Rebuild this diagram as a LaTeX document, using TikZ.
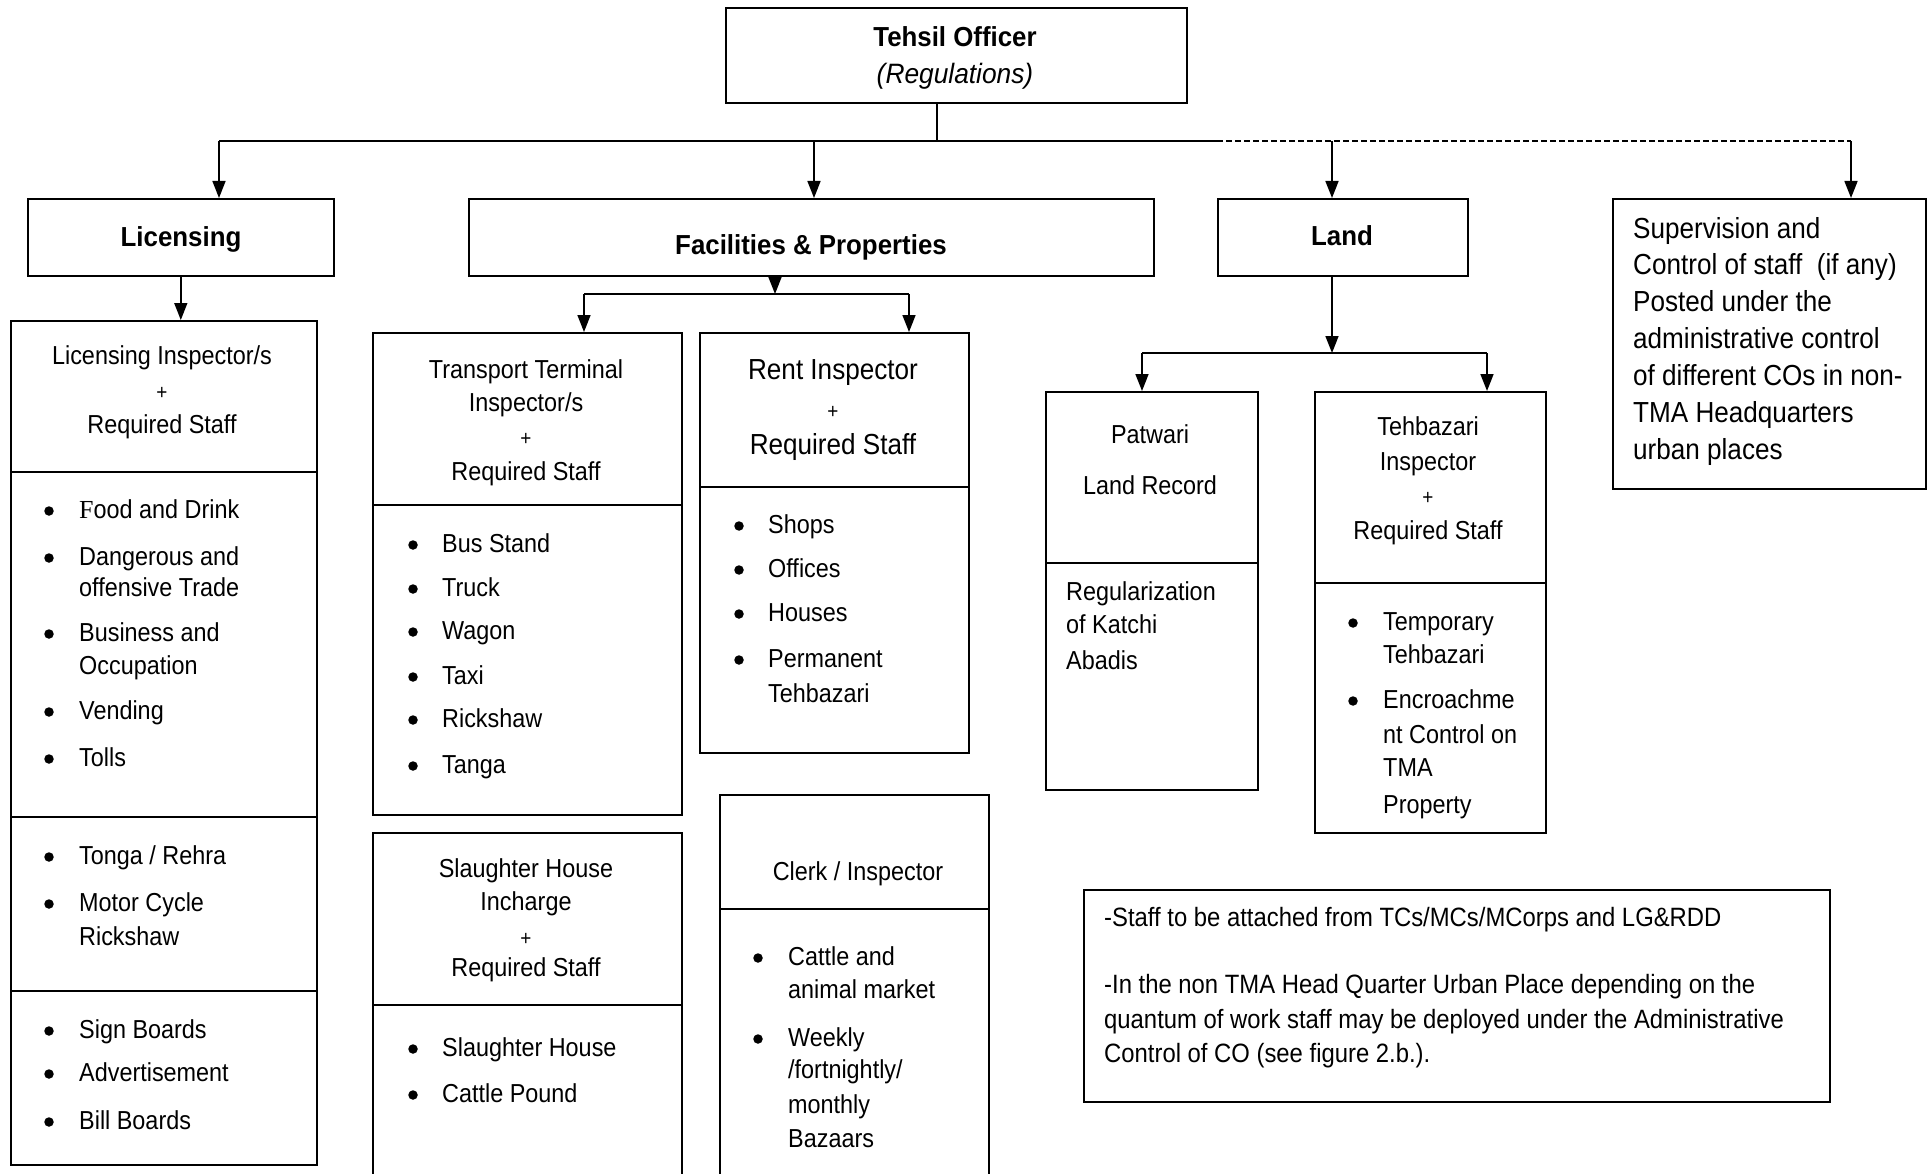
\documentclass[tikz,border=0pt]{standalone}
\usepackage{fontspec}
\setmainfont{Liberation Sans}[FakeStretch=0.9]
\newfontfamily\headfam{Liberation Sans}[FakeStretch=0.94]
\newfontfamily\timesfam{Liberation Serif}
\usetikzlibrary{arrows.meta}

\newcommand\bodyfont{\fontsize{26}{31}\selectfont}
\newcommand\plusfont{\fontsize{21}{24}\selectfont}
\newcommand\bigfont{\fontsize{29}{35}\selectfont}
\newcommand\headfont{\headfam\bfseries\fontsize{27.5}{33}\selectfont}
\newcommand\subheadfont{\headfam\itshape\fontsize{28}{33}\selectfont}
\newcommand\notefont{\fontsize{26.5}{34}\selectfont}

\tikzset{
  box/.style={draw, line width=1.6pt, inner sep=0pt, anchor=north west},
  ln/.style={line width=1.6pt},
  arr/.style={ln, -{Triangle[length=17pt,width=13pt]}},
  txt/.style={inner sep=0pt, anchor=mid, yshift=-7pt, font=\bodyfont},
  ltxt/.style={inner sep=0pt, anchor=mid west, yshift=-7pt, font=\bodyfont},
  hd/.style={inner sep=0pt, anchor=mid, yshift=-7pt, font=\headfont},
  plus/.style={inner sep=0pt, anchor=mid, yshift=-7pt, font=\plusfont},
  dot/.style={circle, fill, inner sep=0pt, minimum size=9.5pt, yshift=-2pt},
}

\begin{document}
\begin{tikzpicture}[x=1pt,y=-1pt]
\fill[white] (0,0) rectangle (1927,1174);
\clip (0,0) rectangle (1927,1174);

% ---------- boxes ----------
\node[box, minimum width=461pt, minimum height=95pt]  (to)   at (725,7) {};
\node[box, minimum width=306pt, minimum height=77pt]  (lic)  at (27,198) {};
\node[box, minimum width=685pt, minimum height=77pt]  (fac)  at (468,198) {};
\node[box, minimum width=250pt, minimum height=77pt]  (land) at (1217,198) {};
\node[box, minimum width=313pt, minimum height=290pt] (sup)  at (1612,198) {};
\node[box, minimum width=306pt, minimum height=844pt] (li)   at (10,320) {};
\node[box, minimum width=309pt, minimum height=482pt] (tt)   at (372,332) {};
\node[box, minimum width=309pt, minimum height=380pt] (sh)   at (372,832) {};
\node[box, minimum width=269pt, minimum height=420pt] (ri)   at (699,332) {};
\node[box, minimum width=269pt, minimum height=420pt] (ck)   at (719,794) {};
\node[box, minimum width=212pt, minimum height=398pt] (pw)   at (1045,391) {};
\node[box, minimum width=231pt, minimum height=441pt] (tb)   at (1314,391) {};
\node[box, minimum width=746pt, minimum height=212pt] (note) at (1083,889) {};

% ---------- dividers inside the boxes ----------
\foreach \b/\y in {li/472, li/817, li/991, tt/505, sh/1005, ri/487, ck/909, pw/563, tb/583}
  \draw[ln] (\b.west |- 0,\y) -- (\b.east |- 0,\y);

% ---------- connectors ----------
\coordinate (jT) at (937,141);
\coordinate (jL) at (219,141);
\coordinate (jF) at (814,141);
\coordinate (jD) at (1217,141);
\coordinate (jN) at (1332,141);
\coordinate (jS) at (1851,141);
\draw[ln] (to.south -| jT) -- (jT);
\draw[ln] (jL) -- (jD);
\draw[ln, dash pattern=on 6pt off 3pt] (jD) -- (jS);
\draw[arr] (jL) -- (jL |- lic.north);
\draw[arr] (jF) -- (jF |- fac.north);
\draw[arr] (jN) -- (jN |- land.north);
\draw[arr] (jS) -- (jS |- sup.north);

\draw[arr] (lic.south) -- (lic.south |- li.north);

\coordinate (fj)  at (775,294);
\coordinate (fjL) at (584,294);
\coordinate (fjR) at (909,294);
\draw[arr] (fac.south -| fj) -- (fj);
\draw[ln] (fjL) -- (fjR);
\draw[arr] (fjL) -- (fjL |- tt.north);
\draw[arr] (fjR) -- (fjR |- ri.north);

\coordinate (lj)  at (1332,353);
\coordinate (ljL) at (1142,353);
\coordinate (ljR) at (1487,353);
\draw[arr] (land.south -| lj) -- (lj);
\draw[ln] (ljL) -- (ljR);
\draw[arr] (ljL) -- (ljL |- pw.north);
\draw[arr] (ljR) -- (ljR |- tb.north);

% ---------- headings ----------
\node[hd] (toa) at (955,37) {Tehsil Officer};
\node[hd, font=\subheadfont] (tob) at (955,74) {(Regulations)};
\node[hd] (lica) at (181,237) {Licensing};
\node[hd] (faca) at (811,245) {Facilities \& Properties};
\node[hd] (landa) at (1342,236) {Land};

% ---------- Supervision box ----------
\foreach \y/\t [count=\i] in {229/{Supervision and}, 265/{Control of staff\ \ (if any)},
    302/{Posted under the}, 339/{administrative control}, 376/{of different COs in non-},
    413/{TMA Headquarters}, 450/{urban places}}
  \node[ltxt, font=\bigfont] (sup\i) at (1633,\y) {\t};

% ---------- Licensing Inspector/s ----------
\node[txt] (lia) at (162,355) {Licensing Inspector/s};
\node[plus] (lib) at (162,390) {+};
\node[txt] (lic2) at (162,424) {Required Staff};
\foreach \y/\t [count=\i] in {509/{{\timesfam F}ood and Drink}, 556/{Dangerous and}, 587/{offensive Trade},
    632/{Business and}, 665/{Occupation}, 710/{Vending}, 757/{Tolls},
    855/{Tonga / Rehra}, 902/{Motor Cycle}, 936/{Rickshaw},
    1029/{Sign Boards}, 1072/{Advertisement}, 1120/{Bill Boards}}
  \node[ltxt] (lit\i) at (79,\y) {\t};
\foreach \y [count=\i] in {509,556,632,710,757,855,902,1029,1072,1120}
  \node[dot] (lib\i) at (49,\y) {};

% ---------- Transport Terminal ----------
\node[txt] (tta) at (526,369) {Transport Terminal};
\node[txt] (ttb) at (526,402) {Inspector/s};
\node[plus] (ttc) at (526,436) {+};
\node[txt] (ttd) at (526,471) {Required Staff};
\foreach \y/\t [count=\i] in {543/{Bus Stand}, 587/{Truck}, 630/{Wagon}, 675/{Taxi}, 718/{Rickshaw}, 764/{Tanga}} {
  \node[dot] (ttb\i) at (413,\y) {};
  \node[ltxt] (ttt\i) at (442,\y) {\t};
}

% ---------- Slaughter House ----------
\node[txt] (sha) at (526,868) {Slaughter House};
\node[txt] (shb) at (526,901) {Incharge};
\node[plus] (shc) at (526,936) {+};
\node[txt] (shd) at (526,967) {Required Staff};
\foreach \y/\t [count=\i] in {1047/{Slaughter House}, 1093/{Cattle Pound}} {
  \node[dot] (shb\i) at (413,\y) {};
  \node[ltxt] (sht\i) at (442,\y) {\t};
}

% ---------- Rent Inspector ----------
\node[txt, font=\bigfont] (ria) at (833,370) {Rent Inspector};
\node[plus] (rib) at (833,409) {+};
\node[txt, font=\bigfont] (ric) at (833,445) {Required Staff};
\foreach \y/\t [count=\i] in {524/{Shops}, 568/{Offices}, 612/{Houses}, 658/{Permanent}, 693/{Tehbazari}}
  \node[ltxt] (rit\i) at (768,\y) {\t};
\foreach \y [count=\i] in {524,568,612,658}
  \node[dot] (rib\i) at (739,\y) {};

% ---------- Clerk / Inspector ----------
\node[txt] (cka) at (858,871) {Clerk / Inspector};
\foreach \y/\t [count=\i] in {956/{Cattle and}, 989/{animal market}, 1037/{Weekly},
    1069/{/fortnightly/}, 1104/{monthly}, 1138/{Bazaars}}
  \node[ltxt] (ckt\i) at (788,\y) {\t};
\foreach \y [count=\i] in {956,1037}
  \node[dot] (ckb\i) at (758,\y) {};

% ---------- Patwari ----------
\node[txt] (pwa) at (1150,434) {Patwari};
\node[txt] (pwb) at (1150,485) {Land Record};
\foreach \y/\t [count=\i] in {591/{Regularization}, 624/{of Katchi}, 660/{Abadis}}
  \node[ltxt] (pwt\i) at (1066,\y) {\t};

% ---------- Tehbazari Inspector ----------
\node[txt] (tba) at (1428,426) {Tehbazari};
\node[txt] (tbb) at (1428,461) {Inspector};
\node[plus] (tbc) at (1428,495) {+};
\node[txt] (tbd) at (1428,530) {Required Staff};
\foreach \y/\t [count=\i] in {621/{Temporary}, 654/{Tehbazari}, 699/{Encroachme},
    734/{nt Control on}, 767/{TMA}, 804/{Property}}
  \node[ltxt] (tbt\i) at (1383,\y) {\t};
\foreach \y [count=\i] in {621,699}
  \node[dot] (tbu\i) at (1353,\y) {};

% ---------- note ----------
\foreach \y/\t [count=\i] in {917/{-Staff to be attached from TCs/MCs/MCorps and LG\&RDD},
    984/{-In the non TMA Head Quarter Urban Place depending on the},
    1019/{quantum of work staff may be deployed under the Administrative},
    1053/{Control of CO (see figure 2.b.).}}
  \node[ltxt, font=\notefont] (nt\i) at (1104,\y) {\t};
\end{tikzpicture}
\end{document}
